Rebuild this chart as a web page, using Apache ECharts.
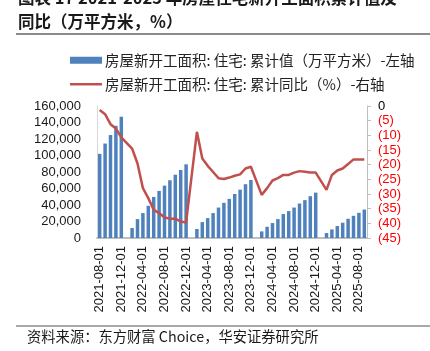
<!DOCTYPE html>
<html>
<head>
<meta charset="utf-8">
<script src="https://cdn.jsdelivr.net/npm/echarts@6/dist/echarts.min.js"></script>
<style>
  html, body { margin: 0; padding: 0; background: #fff; }
  #chart { width: 430px; height: 351px; }
</style>
</head>
<body>
<div id="chart"></div>
<script>
// 月份：2021-08 ~ 2025-09，1 月份无单独数据
const months = []
for (let y = 2021; y <= 2025; y++) {
  for (let m = 1; m <= 12; m++) {
    if (y === 2021 && m < 8) continue
    if (y === 2025 && m > 9) continue
    months.push(y + '-' + String(m).padStart(2, '0') + '-01')
  }
}

// 房屋新开工面积:住宅:累计值（万平方米）
const areaValues = [
  102000, 114500, 124800, 136000, 147000,
  null, 12100, 22900, 30200, 39000, 49800, 57100, 63500, 70000, 76700, 82400, 89300,
  null, 10900, 19300, 24100, 30200, 36900, 42600, 47400, 53400, 58600, 65200, 70300,
  null, 8000, 13600, 18100, 22900, 29000, 32600, 36900, 41800, 45900, 50700, 55000,
  null, 6000, 10400, 14500, 18500, 23300, 26900, 30500, 34500
]

// 房屋新开工面积:住宅:累计同比（%）
const yoyValues = [
  -1.4, -2.8, -6.2, -7.7, -10.7,
  null, -14.5, -19.6, -28.0, -31.4, -35.4, -36.5, -38.0, -38.4, -38.4, -39.4, -39.7,
  null, -8.8, -17.9, -20.4, -22.5, -24.6, -24.9, -24.4, -23.8, -23.3, -21.3, -20.7,
  null, -30.3, -28.0, -25.4, -24.6, -23.5, -23.5, -22.7, -22.2, -22.4, -22.7, -22.7,
  null, -28.6, -23.5, -22.0, -21.3, -19.8, -18.2, -18.2, -18.2
]

const barName = '房屋新开工面积: 住宅: 累计值（万平方米）-左轴'
const lineName = '房屋新开工面积: 住宅: 累计同比（%）-右轴'
const titleLine1 = '图表 17 2021-2025 年房屋住宅新开工面积累计值及'
const titleLine2 = '同比（万平方米，%）'
const sourceText = '资料来源：东方财富 Choice，华安证券研究所'

const cjk = '"Noto Sans CJK SC", sans-serif'
const latin = '"Liberation Sans", Arial, sans-serif'

const chart = echarts.init(document.getElementById('chart'))

const legendText = { fontFamily: cjk, fontSize: 14.5, color: '#222', padding: [0, 0, 0, -2] }

const option = {
  animation: false,
  backgroundColor: '#fff',
  graphic: [
    { type: 'text', x: 18, y: -2, style: { text: titleLine1, font: 'bold 16.5px ' + cjk, fill: '#1a1a1a', verticalAlign: 'middle' } },
    { type: 'text', x: 18, y: 22, style: { text: titleLine2, font: 'bold 16.5px ' + cjk, fill: '#1a1a1a', verticalAlign: 'middle' } },
    { type: 'line', shape: { x1: 16, y1: 34, x2: 430, y2: 34 }, style: { stroke: '#8c8c8c', lineWidth: 2 } },
    { type: 'line', shape: { x1: 16, y1: 326, x2: 430, y2: 326 }, style: { stroke: '#8c8c8c', lineWidth: 1.5 } },
    { type: 'text', x: 27, y: 337, style: { text: sourceText, font: '14.3px ' + cjk, fill: '#1a1a1a', verticalAlign: 'middle' } }
  ],
  legend: [
    {
      left: 65,
      top: 48,
      itemWidth: 32,
      itemHeight: 7,
      textStyle: legendText,
      data: [{ name: barName, icon: 'rect' }]
    },
    {
      left: 65,
      top: 72,
      itemWidth: 32,
      itemHeight: 2.5,
      textStyle: legendText,
      data: [{ name: lineName, icon: 'rect' }]
    }
  ],
  grid: {
    left: 97,
    right: 63,
    top: 106,
    bottom: 113,
    outerBoundsMode: 'none'
  },
  xAxis: {
    type: 'category',
    data: months,
    axisLine: { lineStyle: { color: '#bfbfbf', width: 2 } },
    axisTick: { show: false },
    axisLabel: {
      interval: 3,
      rotate: 90,
      margin: 8,
      fontFamily: latin,
      fontSize: 13,
      color: '#1a1a1a'
    }
  },
  yAxis: [
    {
      type: 'value',
      min: 0,
      max: 160000,
      interval: 20000,
      splitLine: { show: false },
      axisLine: { show: true, lineStyle: { color: '#d9d9d9' } },
      axisTick: { show: false },
      axisLabel: {
        margin: 16,
        fontFamily: latin,
        fontSize: 13,
        color: '#1a1a1a',
        formatter: v => v.toLocaleString('en-US')
      }
    },
    {
      type: 'value',
      position: 'right',
      min: -45,
      max: 0,
      interval: 5,
      splitLine: { show: false },
      axisLine: { show: true, lineStyle: { color: '#bfbfbf' } },
      axisTick: { show: true, length: 4, lineStyle: { color: '#bfbfbf' } },
      axisLabel: {
        margin: 11,
        fontFamily: latin,
        fontSize: 13,
        color: v => (Number(v) === 0 ? '#000' : '#ff0000'),
        formatter: v => (v === 0 ? '0' : '(' + Math.abs(v) + ')')
      }
    }
  ],
  series: [
    {
      name: barName,
      type: 'bar',
      barWidth: 3.5,
      itemStyle: { color: '#4f81bd' },
      data: areaValues
    },
    {
      name: lineName,
      type: 'line',
      yAxisIndex: 1,
      symbol: 'none',
      connectNulls: true,
      lineStyle: { color: '#c0504d', width: 2.5 },
      itemStyle: { color: '#c0504d' },
      data: yoyValues
    }
  ]
}

chart.setOption(option)
</script>
</body>
</html>
